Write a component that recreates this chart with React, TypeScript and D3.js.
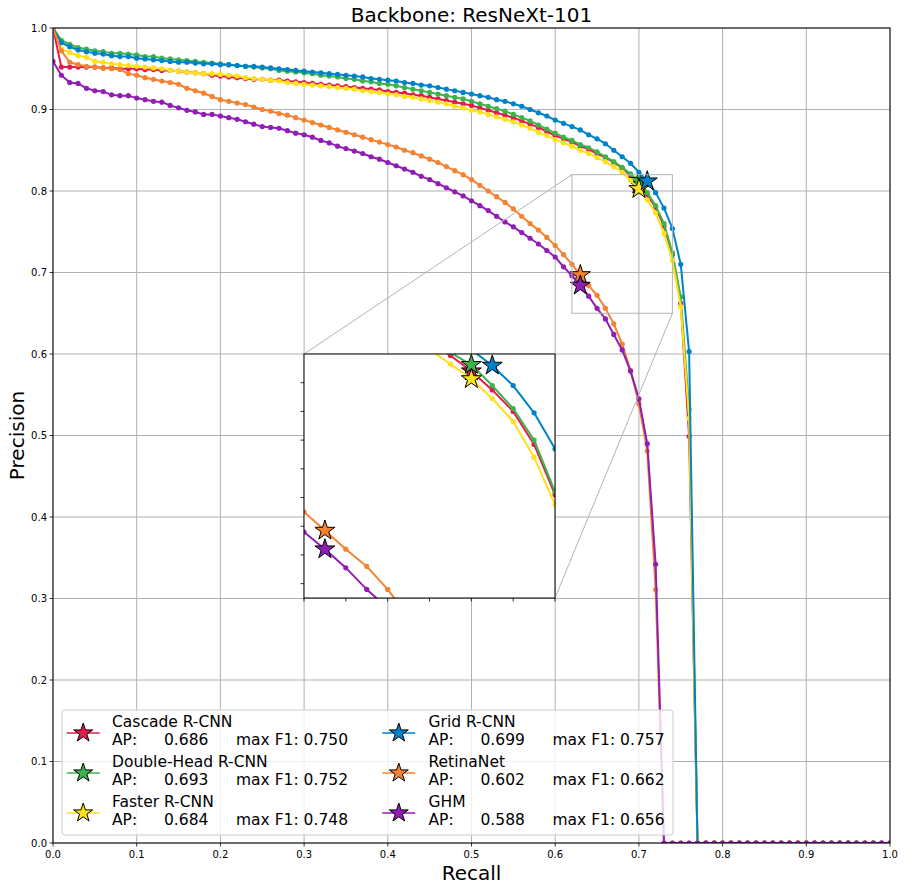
import React from 'react';
import * as d3 from 'd3';

// Recall thresholds (COCO style, 101 points)
const RECALL = d3.range(0, 101).map((i) => i / 100);

const NAMES = ['Cascade R-CNN', 'Double-Head R-CNN', 'Faster R-CNN', 'Grid R-CNN', 'RetinaNet', 'GHM'];
const COLORS = ['#e6194b', '#3cb44b', '#ffe119', '#0082c8', '#f58231', '#911eb4'];
const AP = ['0.686', '0.693', '0.684', '0.699', '0.602', '0.588'];
const MAX_F1 = ['0.750', '0.752', '0.748', '0.757', '0.662', '0.656'];
const BEST_IDX = [70, 70, 70, 71, 63, 63];

const Z24 = [0, 0, 0, 0, 0, 0, 0, 0, 0, 0, 0, 0, 0, 0, 0, 0, 0, 0, 0, 0, 0, 0, 0, 0];
const Z28 = [0, 0, 0, 0, 0, 0, 0, 0, 0, 0, 0, 0, 0, 0, 0, 0, 0, 0, 0, 0, 0, 0, 0, 0, 0, 0, 0, 0];

const CASCADE = [
  1.0, 0.952, 0.952, 0.952, 0.952, 0.952, 0.951, 0.951, 0.95, 0.95,
  0.95, 0.949, 0.949, 0.948, 0.948, 0.947, 0.946, 0.945, 0.944, 0.942,
  0.941, 0.94, 0.939, 0.938, 0.937, 0.937, 0.936, 0.936, 0.935, 0.934,
  0.933, 0.932, 0.931, 0.93, 0.929, 0.928, 0.927, 0.926, 0.925, 0.924,
  0.922, 0.921, 0.92, 0.918, 0.917, 0.915, 0.913, 0.911, 0.909, 0.907,
  0.905, 0.902, 0.899, 0.896, 0.893, 0.89, 0.886, 0.882, 0.878, 0.873,
  0.868, 0.864, 0.86, 0.855, 0.851, 0.846, 0.841, 0.835, 0.828, 0.819,
  0.808, 0.795, 0.78, 0.757, 0.722, 0.662, 0.499,
  ...Z24,
];
const DOUBLE_HEAD = [
  1.0, 0.985, 0.98, 0.976, 0.974, 0.972, 0.971, 0.969, 0.969, 0.968,
  0.967, 0.965, 0.965, 0.963, 0.962, 0.961, 0.96, 0.959, 0.958, 0.957,
  0.956, 0.955, 0.954, 0.953, 0.952, 0.951, 0.95, 0.948, 0.947, 0.946,
  0.945, 0.944, 0.942, 0.941, 0.94, 0.938, 0.937, 0.935, 0.934, 0.932,
  0.931, 0.929, 0.927, 0.925, 0.923, 0.921, 0.919, 0.917, 0.915, 0.913,
  0.91, 0.907, 0.904, 0.901, 0.898, 0.894, 0.89, 0.886, 0.881, 0.876,
  0.871, 0.866, 0.862, 0.857, 0.853, 0.848, 0.842, 0.836, 0.829, 0.821,
  0.8125, 0.798, 0.782, 0.76, 0.724, 0.67, 0.532,
  ...Z24,
];
const FASTER = [
  1.0, 0.974, 0.97, 0.966, 0.964, 0.959, 0.958, 0.956, 0.955, 0.954,
  0.953, 0.952, 0.951, 0.95, 0.948, 0.947, 0.946, 0.945, 0.944, 0.944,
  0.943, 0.942, 0.941, 0.939, 0.938, 0.937, 0.936, 0.935, 0.933, 0.932,
  0.931, 0.93, 0.929, 0.928, 0.927, 0.926, 0.925, 0.923, 0.922, 0.921,
  0.919, 0.918, 0.916, 0.915, 0.913, 0.911, 0.909, 0.907, 0.904, 0.902,
  0.899, 0.897, 0.894, 0.891, 0.888, 0.885, 0.881, 0.877, 0.872, 0.868,
  0.863, 0.859, 0.855, 0.85, 0.846, 0.841, 0.836, 0.83, 0.823, 0.813,
  0.8026, 0.789, 0.773, 0.748, 0.715, 0.658, 0.521,
  ...Z24,
];
const GRID = [
  1.0, 0.982, 0.977, 0.973, 0.971, 0.969, 0.968, 0.966, 0.965, 0.965,
  0.963, 0.962, 0.961, 0.96, 0.959, 0.958, 0.958, 0.957, 0.956, 0.956,
  0.955, 0.955, 0.954, 0.953, 0.953, 0.952, 0.951, 0.95, 0.949, 0.948,
  0.947, 0.946, 0.945, 0.944, 0.943, 0.942, 0.941, 0.94, 0.938, 0.937,
  0.936, 0.935, 0.933, 0.932, 0.93, 0.929, 0.927, 0.925, 0.923, 0.921,
  0.919, 0.917, 0.915, 0.912, 0.91, 0.907, 0.904, 0.9, 0.896, 0.892,
  0.887, 0.883, 0.879, 0.875, 0.869, 0.864, 0.858, 0.85, 0.842, 0.834,
  0.823, 0.812, 0.798, 0.779, 0.754, 0.71, 0.603,
  ...Z24,
];
const RETINA = [
  1.0, 0.972, 0.958, 0.955, 0.953, 0.952, 0.951, 0.95, 0.949, 0.944,
  0.942, 0.939, 0.937, 0.935, 0.933, 0.931, 0.926, 0.923, 0.92, 0.916,
  0.912, 0.91, 0.908, 0.906, 0.903, 0.9, 0.898, 0.895, 0.893, 0.89,
  0.887, 0.884, 0.881, 0.878, 0.875, 0.872, 0.869, 0.866, 0.863, 0.86,
  0.857, 0.854, 0.85, 0.847, 0.843, 0.839, 0.835, 0.83, 0.825, 0.82,
  0.814, 0.807, 0.8, 0.793, 0.786, 0.778, 0.769, 0.76, 0.752, 0.743,
  0.733, 0.722, 0.71, 0.697, 0.684, 0.672, 0.656, 0.637, 0.612, 0.58,
  0.539, 0.481, 0.311,
  ...Z28,
];
const GHM = [
  0.959, 0.942, 0.933, 0.932, 0.926, 0.923, 0.922, 0.918, 0.917, 0.917,
  0.914, 0.912, 0.91, 0.909, 0.905, 0.902, 0.899, 0.897, 0.894, 0.894,
  0.892, 0.89, 0.888, 0.885, 0.882, 0.879, 0.878, 0.877, 0.874, 0.871,
  0.869, 0.866, 0.862, 0.859, 0.855, 0.852, 0.849, 0.846, 0.842, 0.839,
  0.835, 0.831, 0.827, 0.823, 0.818, 0.814, 0.809, 0.804, 0.799, 0.794,
  0.788, 0.782, 0.776, 0.769, 0.762, 0.756, 0.749, 0.742, 0.735, 0.727,
  0.719, 0.707, 0.696, 0.684, 0.671, 0.656, 0.643, 0.624, 0.605, 0.579,
  0.545, 0.49, 0.342,
  ...Z28,
];

const SERIES = [CASCADE, DOUBLE_HEAD, FASTER, GRID, RETINA, GHM];

const MAIN_TICKS = [0, 0.1, 0.2, 0.3, 0.4, 0.5, 0.6, 0.7, 0.8, 0.9, 1.0];
const INSET_X_DOMAIN = [0.62, 0.74];
const INSET_Y_DOMAIN = [0.65, 0.82];
const INSET_X_TICKS = [0.62, 0.64, 0.66, 0.68, 0.7, 0.72, 0.74];
const INSET_Y_TICKS = [0.66, 0.68, 0.7, 0.72, 0.74, 0.76, 0.78, 0.8];

const FONT = '"DejaVu Sans", sans-serif';

function starPath(cx: number, cy: number, R: number): string {
  const r = R * 0.381966;
  const pts: string[] = [];
  for (let i = 0; i < 10; i++) {
    const a = -Math.PI / 2 + (i * Math.PI) / 5;
    const rad = i % 2 === 0 ? R : r;
    pts.push(`${cx + rad * Math.cos(a)},${cy + rad * Math.sin(a)}`);
  }
  return 'M' + pts.join('L') + 'Z';
}

function Curves({ x, y, clipId }: { x: any; y: any; clipId: string }) {
  return (
    <g clipPath={`url(#${clipId})`}>
      {SERIES.map((vals, si) => {
        const line = d3
          .line<number>()
          .x((_, i) => x(RECALL[i]))
          .y((d) => y(d));
        const bi = BEST_IDX[si];
        return (
          <g key={si}>
            <path d={line(vals) || ''} fill="none" stroke={COLORS[si]} strokeWidth={2} strokeLinejoin="round" />
            {vals.map((v, i) => (
              <circle key={i} cx={x(RECALL[i])} cy={y(v)} r={2.6} fill={COLORS[si]} />
            ))}
            <path d={starPath(x(RECALL[bi]), y(vals[bi]), 10.5)} fill={COLORS[si]} stroke="#000" strokeWidth={1} strokeLinejoin="miter" />
          </g>
        );
      })}
    </g>
  );
}

export default function App() {
  const W = 905;
  const H = 890;
  const L = 53, R = 890, T = 28, B = 843;
  const x = d3.scaleLinear().domain([0, 1]).range([L, R]);
  const y = d3.scaleLinear().domain([0, 1]).range([B, T]);

  const IL = 304, IR = 555, IT = 354, IB = 598;
  const ix = d3.scaleLinear().domain(INSET_X_DOMAIN).range([IL, IR]);
  const iy = d3.scaleLinear().domain(INSET_Y_DOMAIN).range([IB, IT]);

  const rx0 = x(INSET_X_DOMAIN[0]), rx1 = x(INSET_X_DOMAIN[1]);
  const ry0 = y(INSET_Y_DOMAIN[1]), ry1 = y(INSET_Y_DOMAIN[0]);

  const legendX = 62, legendY = 710, legendW = 611, legendH = 125;
  const colHandle = [66.7, 382.3];
  const colText = [112, 428.5];

  return (
    <svg width={W} height={H} style={{ position: 'absolute', left: 0, top: 0, background: '#fff' }} fontFamily={FONT}>
      <defs>
        <clipPath id="mainClip">
          <rect x={L} y={T} width={R - L} height={B - T} />
        </clipPath>
        <clipPath id="insetClip">
          <rect x={IL} y={IT} width={IR - IL} height={IB - IT} />
        </clipPath>
      </defs>
      <rect x={0} y={0} width={W} height={H} fill="#fff" />

      {/* grid */}
      {MAIN_TICKS.map((t) => (
        <g key={'g' + t}>
          <line x1={x(t)} x2={x(t)} y1={T} y2={B} stroke="#b0b0b0" strokeWidth={1} />
          <line x1={L} x2={R} y1={y(t)} y2={y(t)} stroke="#b0b0b0" strokeWidth={1} />
        </g>
      ))}

      <Curves x={x} y={y} clipId="mainClip" />

      {/* inset indicator rectangle and connectors */}
      <rect x={rx0} y={ry0} width={rx1 - rx0} height={ry1 - ry0} fill="none" stroke="#b4b4b4" strokeWidth={1} />
      <line x1={IL} y1={IT} x2={rx0} y2={ry0} stroke="#b4b4b4" strokeWidth={1} />
      <line x1={IR} y1={IB} x2={rx1} y2={ry1} stroke="#b4b4b4" strokeWidth={1} />

      {/* main frame */}
      <rect x={L} y={T} width={R - L} height={B - T} fill="none" stroke="#000" strokeWidth={1} />

      {/* ticks */}
      {MAIN_TICKS.map((t) => (
        <g key={'t' + t}>
          <line x1={x(t)} x2={x(t)} y1={B} y2={B + 3.5} stroke="#000" strokeWidth={0.8} />
          <text x={x(t)} y={B + 15} fontSize={10} textAnchor="middle" fill="#000">
            {t.toFixed(1)}
          </text>
          <line x1={L - 3.5} x2={L} y1={y(t)} y2={y(t)} stroke="#000" strokeWidth={0.8} />
          <text x={L - 6} y={y(t) + 3.5} fontSize={10} textAnchor="end" fill="#000">
            {t.toFixed(1)}
          </text>
        </g>
      ))}

      {/* labels */}
      <text x={(L + R) / 2} y={22} fontSize={20} textAnchor="middle" fill="#000">
        Backbone: ResNeXt-101
      </text>
      <text x={(L + R) / 2} y={880} fontSize={20} textAnchor="middle" fill="#000">
        Recall
      </text>
      <text transform={`translate(24, ${(T + B) / 2}) rotate(-90)`} fontSize={20} textAnchor="middle" fill="#000">
        Precision
      </text>

      {/* legend */}
      <rect x={legendX} y={legendY} width={legendW} height={legendH} rx={3} fill="#fff" fillOpacity={0.8} stroke="#cccccc" strokeWidth={1} />
      {NAMES.map((name, i) => {
        const col = Math.floor(i / 3);
        const row = i % 3;
        const cy = 733 + row * 40;
        const hx = colHandle[col];
        const tx = colText[col];
        return (
          <g key={'l' + i}>
            <line x1={hx} x2={hx + 33} y1={cy} y2={cy} stroke={COLORS[i]} strokeWidth={2} strokeOpacity={0.75} />
            <path d={starPath(hx + 16.5, cy, 10)} fill={COLORS[i]} stroke="#000" strokeWidth={1} />
            <text x={tx} y={cy - 6} fontSize={15.5} fill="#000">
              {name}
            </text>
            <text y={cy + 12} fontSize={15.5} fill="#000">
              <tspan x={tx}>AP:</tspan>
              <tspan x={tx + 52}>{AP[i]}</tspan>
              <tspan x={tx + 124}>{`max F1: ${MAX_F1[i]}`}</tspan>
            </text>
          </g>
        );
      })}

      {/* inset */}
      <rect x={IL} y={IT} width={IR - IL} height={IB - IT} fill="#fff" />
      <Curves x={ix} y={iy} clipId="insetClip" />
      <rect x={IL} y={IT} width={IR - IL} height={IB - IT} fill="none" stroke="#000" strokeWidth={1} />
      {INSET_X_TICKS.map((t) => (
        <line key={'ix' + t} x1={ix(t)} x2={ix(t)} y1={IB} y2={IB + 3.5} stroke="#000" strokeWidth={0.8} />
      ))}
      {INSET_Y_TICKS.map((t) => (
        <line key={'iy' + t} x1={IL - 3.5} x2={IL} y1={iy(t)} y2={iy(t)} stroke="#000" strokeWidth={0.8} />
      ))}
    </svg>
  );
}
